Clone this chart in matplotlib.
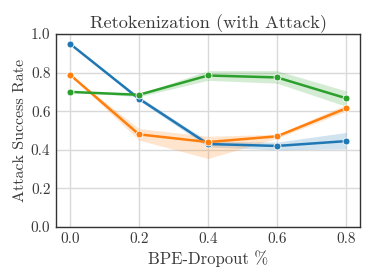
import matplotlib
matplotlib.use("Agg")
import matplotlib.pyplot as plt

plt.rcParams['font.family'] = ['cmr10', 'DejaVu Serif']
plt.rcParams['axes.formatter.use_mathtext'] = True
plt.rcParams['mathtext.fontset'] = 'cm'

x = [0.0, 0.2, 0.4, 0.6, 0.8]
blue = [0.95, 0.665, 0.43, 0.42, 0.445]
blue_lo = [0.95, 0.655, 0.415, 0.40, 0.405]
blue_hi = [0.95, 0.675, 0.445, 0.44, 0.49]
orange = [0.79, 0.48, 0.44, 0.47, 0.615]
orange_lo = [0.79, 0.45, 0.355, 0.46, 0.60]
orange_hi = [0.79, 0.51, 0.47, 0.48, 0.635]
green = [0.70, 0.685, 0.785, 0.775, 0.667]
green_lo = [0.70, 0.675, 0.76, 0.745, 0.625]
green_hi = [0.70, 0.69, 0.81, 0.81, 0.705]

series = [
    (blue, blue_lo, blue_hi, '#1f77b4'),
    (orange, orange_lo, orange_hi, '#ff7f0e'),
    (green, green_lo, green_hi, '#2ca02c'),
]

fig = plt.figure(figsize=(3.74, 2.8), dpi=100)
ax = fig.add_axes([56/374, 1-227/280, (360-56)/374, (227-34)/280])
for y, lo, hi, c in series:
    ax.fill_between(x, lo, hi, color=c, alpha=0.2, linewidth=0)
    ax.plot(x, y, color=c, linewidth=1.8, marker='o', markersize=5,
            markeredgecolor='white', markeredgewidth=0.6)

ax.set_ylim(0, 1.0)
ax.set_xlim(-0.04, 0.84)
ax.set_xticks(x)
ax.set_yticks([0.0, 0.2, 0.4, 0.6, 0.8, 1.0])
ax.set_xticklabels(['0.0', '0.2', '0.4', '0.6', '0.8'])
ax.set_yticklabels(['0.0', '0.2', '0.4', '0.6', '0.8', '1.0'])
ax.grid(True, color='#d9d9d9', linewidth=1.0)
ax.set_axisbelow(True)
for s in ax.spines.values():
    s.set_color('#333333')
    s.set_linewidth(1.0)
ax.tick_params(labelsize=11, labelcolor='#3a3a3a', length=0, pad=4)
ax.set_xlabel('BPE-Dropout %', fontsize=12, color='#3a3a3a', labelpad=3)
ax.set_ylabel('Attack Success Rate', fontsize=11.5, color='#3a3a3a', labelpad=3)
ax.set_title('Retokenization (with Attack)', fontsize=13.2, color='#3a3a3a', pad=4)
fig.savefig('out.png', dpi=100)
